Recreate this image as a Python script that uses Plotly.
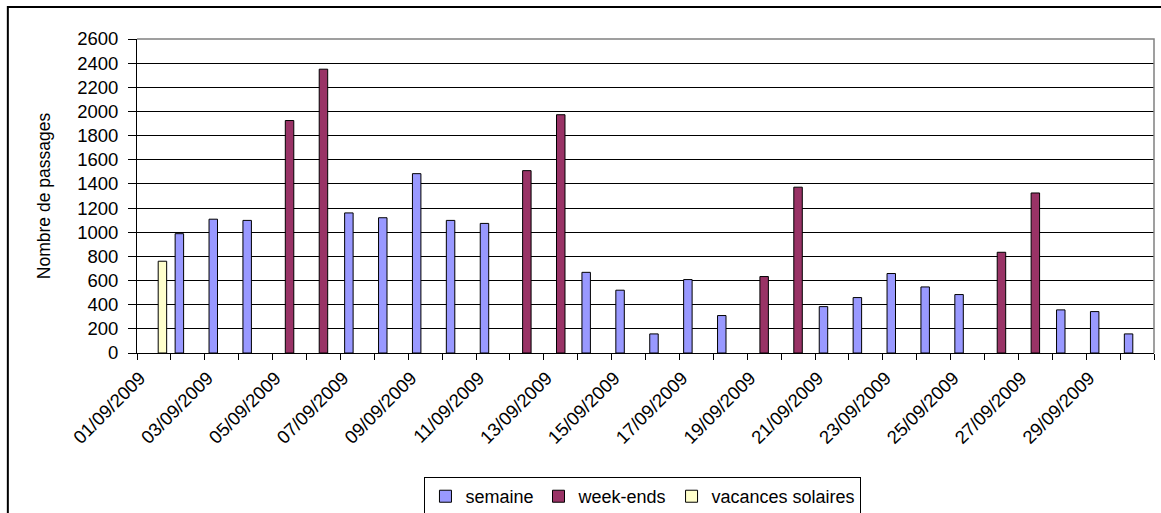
import plotly.graph_objects as go

# ---- data ----
dates = [f"{d:02d}/09/2009" for d in range(1, 31)]
tick_labels = [d if i % 2 == 0 else "" for i, d in enumerate(dates)]

semaine = [None, 988, 1108, 1098, None, None, 1160, 1120, 1485, 1098, 1073,
           None, None, 668, 520, 158, 608, 310, None, None, 384, 459, 658,
           547, 484, None, None, 357, 343, 158]
week_ends = [None, None, None, None, 1925, 2350, None, None, None, None, None,
             1510, 1973, None, None, None, None, None, 633, 1373, None, None,
             None, None, None, 834, 1325, None, None, None]
vacances = [760] + [None] * 29

series_names = ["semaine", "week-ends", "vacances solaires"]
series_values = [semaine, week_ends, vacances]
series_colors = ["#9999FF", "#993366", "#FFFFCC"]

FONT = "Liberation Sans, Arial, sans-serif"
FS = 18.5

fig = go.Figure()
for name, vals, col in zip(series_names, series_values, series_colors):
    fig.add_trace(go.Bar(
        x=dates, y=vals, name=name,
        marker=dict(color=col, line=dict(color="#000000", width=1)),
    ))

fig.update_layout(
    width=1161, height=513,
    margin=dict(l=137, r=7, t=39, b=160, autoexpand=False),
    barmode="group", bargap=0.25, bargroupgap=0,
    paper_bgcolor="white", plot_bgcolor="white",
    font=dict(family=FONT, size=FS, color="black"),
    showlegend=True,
    legend=dict(
        orientation="h", x=0.4975, xanchor="center", y=-0.395, yanchor="top",
        bordercolor="black", borderwidth=1, font=dict(size=18),
        itemwidth=30, tracegroupgap=0,
    ),
    xaxis=dict(
        type="category", tickmode="array", tickvals=dates, ticktext=tick_labels,
        tickangle=-45, tickson="boundaries", ticks="outside", ticklen=6,
        tickcolor="black", showline=True, linecolor="black", linewidth=1,
        showgrid=False, tickfont=dict(size=FS), automargin=False,
        ticklabelshift=-14, ticklabelstandoff=6,
    ),
    yaxis=dict(
        range=[0, 2600], dtick=200, ticks="outside", ticklen=8,
        tickcolor="black", showline=True, linecolor="black", linewidth=1,
        showgrid=True, gridcolor="black", gridwidth=1, zeroline=False,
        tickfont=dict(size=FS), automargin=False, ticklabelstandoff=6,
        title=dict(text="Nombre de passages", font=dict(size=17.5), standoff=22),
    ),
    shapes=[
        # plot area border (top and right, gray)
        dict(type="path", xref="paper", yref="paper", path="M 0,1 L 1,1 L 1,0",
             line=dict(color="#808080", width=1.5), layer="above"),
        # chart area border
        dict(type="rect", xref="paper", yref="paper", x0=-0.127, y0=-0.55,
             x1=1.02, y1=1.102, line=dict(color="black", width=2),
             fillcolor="rgba(0,0,0,0)", layer="below"),
    ],
)

fig.write_html(
    "out.html",
    config={"displayModeBar": False},
    post_script="document.body.style.margin='0';document.body.style.overflow='hidden';",
)
